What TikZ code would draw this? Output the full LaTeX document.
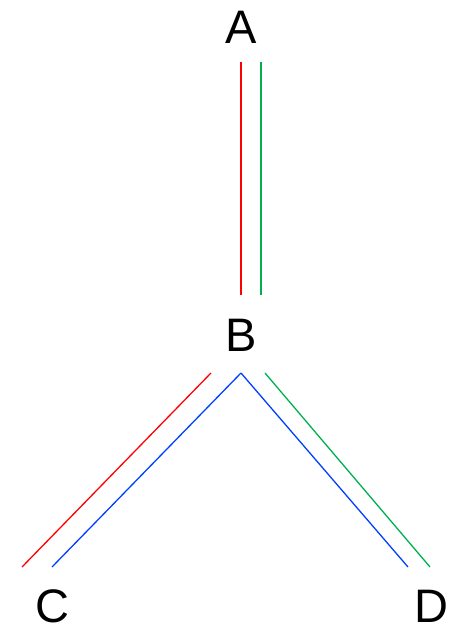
\documentclass[tikz,border=0pt]{standalone}
\usepackage{fontspec}
\setmainfont{Liberation Sans}
\usetikzlibrary{calc}
\definecolor{lred}{RGB}{255,0,0}
\definecolor{lgreen}{RGB}{0,176,80}
\definecolor{lblue}{RGB}{0,64,255}
\tikzset{
  lbl/.style={inner sep=0pt, font=\fontsize{47}{47}\selectfont},
  edge/.style={line width=1.3pt}
}
\begin{document}
\begin{tikzpicture}[x=1pt,y=-1pt]
\useasboundingbox (0,0) rectangle (451,627);
\node[lbl] (A) at (241,27) {A};
\node[lbl] (B) at (241,335) {B};
\node[lbl] (C) at (52,606) {C};
\node[lbl] (D) at (431,606) {D};
% A -- B
\draw[edge,lred] ($(A)+(0,35)$) -- ($(B)+(0,-40)$);
\draw[edge,lgreen] ($(A)+(20,35)$) -- ($(B)+(20,-40)$);
% B -- C
\draw[edge,lred] ($(B)+(-30,38)$) -- ($(C)+(-30,-39)$);
\draw[edge,lblue] ($(B)+(0,38)$) -- ($(C)+(0,-39)$);
% B -- D
\draw[edge,lblue] ($(B)+(0,38)$) -- ($(D)+(-23,-39)$);
\draw[edge,lgreen] ($(B)+(24,38)$) -- ($(D)+(-1,-39)$);
\end{tikzpicture}
\end{document}
